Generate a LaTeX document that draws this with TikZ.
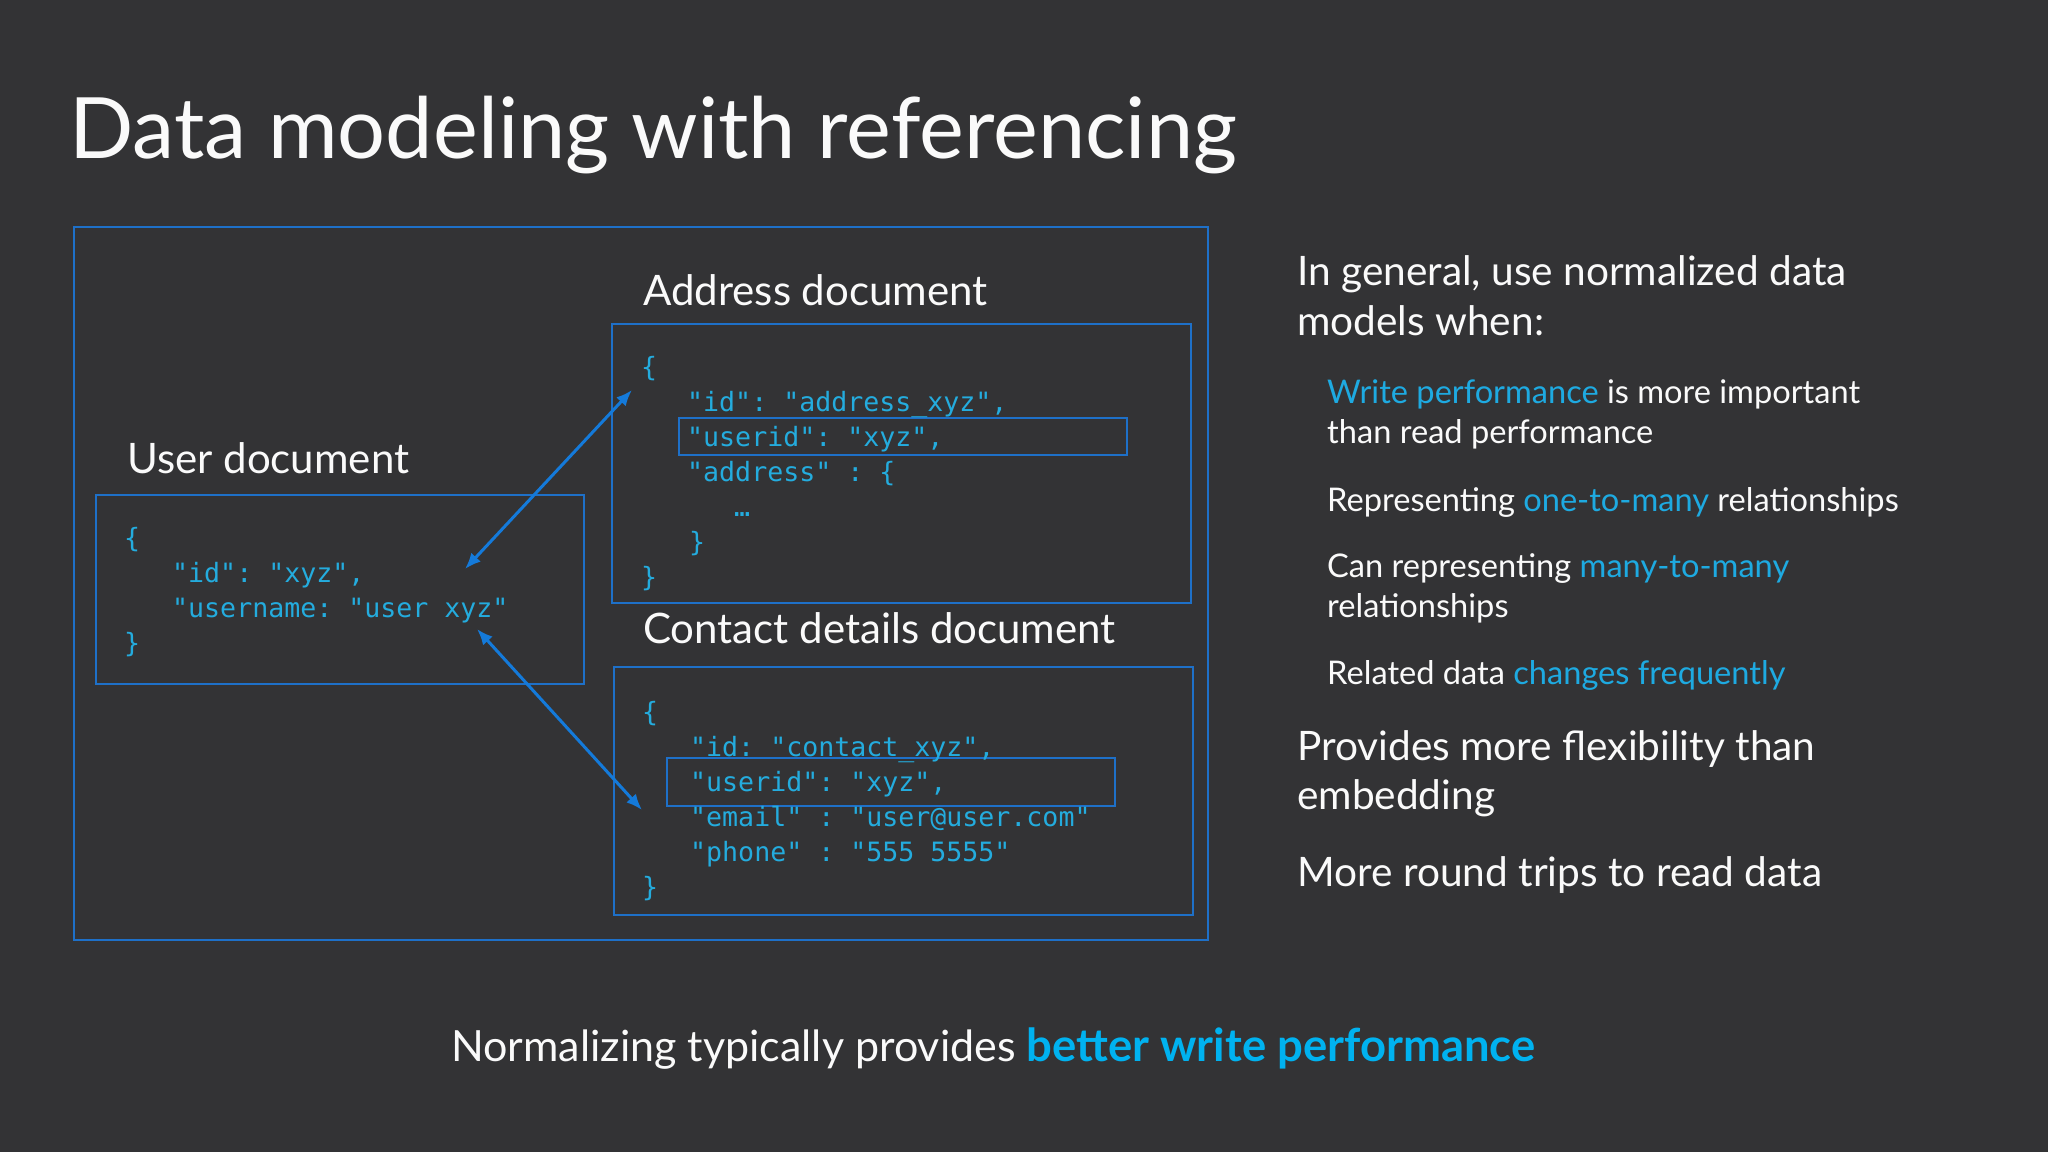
\documentclass[tikz,border=0pt]{standalone}
\usepackage{fontspec}
\setmainfont{Lato}
\setmonofont{DejaVu Sans Mono}
\usetikzlibrary{arrows.meta}
\definecolor{bgc}{RGB}{51,51,53}
\definecolor{framec}{RGB}{30,112,200}
\definecolor{arrowc}{RGB}{20,122,218}
\definecolor{codec}{RGB}{36,172,222}
\definecolor{accentc}{RGB}{30,170,225}
\definecolor{boldc}{RGB}{0,178,240}
\definecolor{txtc}{RGB}{250,250,250}
\tikzset{
  txt/.style={anchor=base west, inner sep=0pt, text=txtc},
  codeline/.style={anchor=base west, inner sep=0pt, text=codec, font=\ttfamily\fontsize{26.6}{30}\selectfont},
  heading/.style={txt, font=\fontsize{42}{50}\selectfont},
  bigtxt/.style={txt, font=\fontsize{40.6}{48}\selectfont},
  smalltxt/.style={txt, font=\fontsize{32.6}{40}\selectfont},
  docbox/.style={draw=framec, line width=2pt, anchor=north west, inner sep=0pt},
  hlbox/.style={draw=framec, line width=2pt, anchor=north west, inner sep=0pt},
  link/.style={draw=arrowc, line width=3pt, {Latex[length=16pt,width=13pt]}-{Latex[length=16pt,width=13pt]}},
}
\newcommand{\acc}[1]{\textcolor{accentc}{#1}}
\begin{document}
\begin{tikzpicture}[x=1pt,y=-1pt]
\fill[bgc] (0,0) rectangle (2048,1152);
\useasboundingbox (0,0) rectangle (2048,1152);

% title
\node[txt, font=\fontsize{84.7}{100}\selectfont] (title) at (69,158) {Data modeling with referencing};

% outer frame
\node[docbox, minimum width=1134pt, minimum height=713pt] (outer) at (73,226) {};

% user document
\node[heading] (userlbl) at (127,473) {User document};
\node[docbox, minimum width=488pt, minimum height=189pt] (userbox) at (95,494) {};
\node[codeline] (u0) at (124,547) {\{};
\node[codeline] (u1) at (172,582) {"id": "xyz",};
\node[codeline] (u2) at (172,617) {"username: "user xyz"};
\node[codeline] (u3) at (124,652) {\}};

% address document
\node[heading] (addrlbl) at (643,305) {Address document};
\node[docbox, minimum width=579pt, minimum height=279pt] (addrbox) at (611,323) {};
\node[hlbox, minimum width=448pt, minimum height=37pt] (addrhl) at (678,417) {};
\node[codeline] (a0) at (641,376) {\{};
\node[codeline] (a1) at (687,411) {"id": "address\_xyz",};
\node[codeline] (a2) at (687,446) {"userid": "xyz",};
\node[codeline] (a3) at (687,481) {"address" : \{};
\node[codeline] (a4) at (734,516) {…};
\node[codeline] (a5) at (689,551) {\}};
\node[codeline] (a6) at (641,586) {\}};

% contact document
\node[heading] (contlbl) at (643,643) {Contact details document};
\node[docbox, minimum width=579pt, minimum height=248pt] (contbox) at (613,666) {};
\node[hlbox, minimum width=448pt, minimum height=48pt] (conthl) at (666,757) {};
\node[codeline] (c0) at (642,721) {\{};
\node[codeline] (c1) at (690,756) {"id: "contact\_xyz",};
\node[codeline] (c2) at (690,791) {"userid": "xyz",};
\node[codeline] (c3) at (690,826) {"email" : "user@user.com"};
\node[codeline] (c4) at (690,861) {"phone" : "555 5555"};
\node[codeline] (c5) at (642,896) {\}};

% links
\coordinate (la) at (465,569);
\coordinate (lb) at (632,390);
\coordinate (lc) at (477,629);
\coordinate (ld) at (642,810);
\draw[link] (la) -- (lb);
\draw[link] (lc) -- (ld);

% right text
\node[bigtxt] (r1) at (1297,285) {In general, use normalized data};
\node[bigtxt] (r2) at (1297,335) {models when:};
\node[smalltxt] (s1) at (1327,403) {\acc{Write performance} is more important};
\node[smalltxt] (s2) at (1327,443) {than read performance};
\node[smalltxt] (s3) at (1327,511) {Representing \acc{one-to-many} relationships};
\node[smalltxt] (s4) at (1327,577) {Can representing \acc{many-to-many}};
\node[smalltxt] (s5) at (1327,617) {relationships};
\node[smalltxt] (s6) at (1327,684) {Related data \acc{changes frequently}};
\node[bigtxt] (r3) at (1297,760) {Provides more flexibility than};
\node[bigtxt] (r4) at (1297,809) {embedding};
\node[bigtxt] (r5) at (1297,886) {More round trips to read data};

% bottom
\node[txt, font=\fontsize{43}{50}\selectfont] (bottom) at (451,1061) {Normalizing typically provides \textcolor{boldc}{\fontsize{45.4}{50}\selectfont\bfseries better write performance}};
\end{tikzpicture}
\end{document}
